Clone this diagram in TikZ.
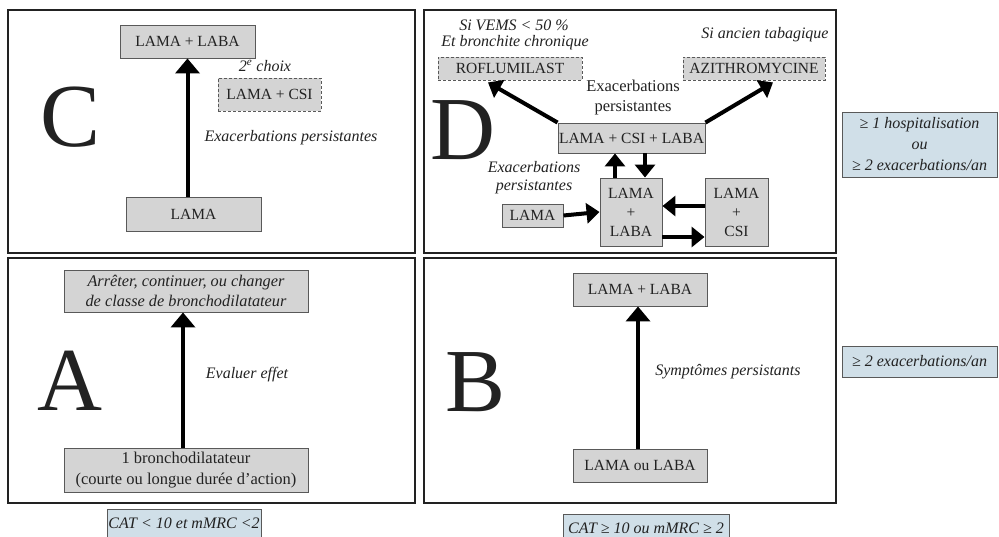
\documentclass[tikz,border=0pt]{standalone}
\usepackage{fontspec}
\setmainfont{Liberation Serif}
\usetikzlibrary{arrows.meta}
\definecolor{boxgray}{HTML}{D4D4D4}
\definecolor{legblue}{HTML}{D0DFE8}
\definecolor{ink}{HTML}{222222}
\begin{document}
\begin{tikzpicture}[x=1pt, y=-1pt, every node/.style={text=ink},
    panel/.style={draw=ink, line width=2pt},
    gbox/.style={draw=black!65, fill=boxgray, line width=.9pt, inner sep=0pt, align=center,
      font=\fontsize{15.5}{18}\selectfont},
    dbox/.style={gbox, dash pattern=on 3pt off 2pt},
    legbox/.style={draw=black!65, fill=legblue, line width=.9pt, inner sep=0pt, align=center,
      font=\fontsize{16}{21}\selectfont\itshape},
    note/.style={align=center, inner sep=0pt, font=\fontsize{16}{18}\selectfont\itshape},
    bigletter/.style={inner sep=0pt, font=\fontsize{90}{90}\selectfont},
    bigarrow/.style={line width=4pt, -{Triangle[length=15pt,width=24pt]}},
    smallarrow/.style={line width=4pt, -{Triangle[length=13pt,width=20pt]}}]
  \useasboundingbox (0,0) rectangle (999,537);
  \clip (0,0) rectangle (999,537);
  \fill[white] (0,0) rectangle (999,537);

    %%panels
    \draw[panel](8, 10) rectangle (415, 253);
    \draw[panel](424, 10) rectangle (836, 253);
    \draw[panel](8, 258) rectangle (415, 503);
    \draw[panel](424, 258) rectangle (836, 503);

    %%C
    \node[bigletter] (cletter) at (71, 117) {C};
    \node[gbox, minimum width=135pt, minimum height=33pt] (ctop) at (187.5, 41.5) {LAMA + LABA};
    \node[gbox, minimum width=135pt, minimum height=34pt] (cbot) at (193.5, 214) {LAMA};
    \node[dbox, minimum width=103pt, minimum height=33pt] (calt) at (269.5, 94.5) {LAMA + CSI};
    \node[note] (cchoix) at (265, 66) {2\textsuperscript{e} choix};
    \node[note] (cexa) at (291, 138) {Exacerbations persistantes};
    \draw[bigarrow](ctop.south |- cbot.north) to (ctop.south);

    %%D
    \node[bigletter] (dletter) at (463, 130) {D};
    \node[note] (dvems) at (514, 25) {Si VEMS < 50 \%};
    \node[note] (dbronch) at (515, 43) {Et bronchite chronique};
    \node[note] (dtabac) at (765, 35) {Si ancien tabagique};
    \node[dbox, minimum width=144pt, minimum height=23pt] (drof) at (510, 68.5) {ROFLUMILAST};
    \node[dbox, minimum width=142pt, minimum height=23pt] (dazi) at (754, 68.5) {AZITHROMYCINE};
    \node[note, font=\fontsize{16.5}{20}\selectfont] (dexa) at (633, 98) {Exacerbations\\persistantes};
    \node[gbox, minimum width=147pt, minimum height=30pt] (dtrip) at (631.5, 138) {LAMA + CSI + LABA};
    \node[note, font=\fontsize{16}{18}\selectfont\itshape] (dexa2) at (534, 178) {Exacerbations\\persistantes};
    \node[gbox, minimum width=61pt, minimum height=23pt] (dlama) at (532.5, 215.5) {LAMA};
    \node[gbox, minimum width=62pt, minimum height=68pt, font=\fontsize{15.5}{19}\selectfont] (dll) at (631, 212) {LAMA\\+\\LABA};
    \node[gbox, minimum width=63pt, minimum height=68pt, font=\fontsize{15.5}{19}\selectfont] (dlc) at (736.5, 212) {LAMA\\+\\CSI};
      \draw[smallarrow](dtrip.north west) to ([xshift=-22pt, yshift=-2pt]drof.south);
      \draw[smallarrow](dtrip.north east) to ([xshift=19pt, yshift=-2pt]dazi.south);
      \draw[smallarrow](dlama.east) to (dll.west);
      \draw[smallarrow]([yshift=6pt]dlc.west) to ([yshift=6pt]dll.east);
      \draw[smallarrow]([yshift=-25pt]dll.east) to ([yshift=-25pt]dlc.west);
      \draw[smallarrow]([xshift=-16pt]dll.north) to ([xshift=-16pt]dll.north |- dtrip.south);
      \draw[smallarrow]([xshift=14pt]dll.north |- dtrip.south) to ([xshift=14pt]dll.north);

    %%A
    \node[bigletter] (aletter) at (70, 381) {A};
    \node[gbox, minimum width=244pt, minimum height=42pt, font=\fontsize{16.3}{19.5}\selectfont\itshape] (atop) at (186, 291)
      {Arrêter, continuer, ou changer\\de classe de bronchodilatateur};
    \node[gbox, minimum width=244pt, minimum height=44pt, font=\fontsize{16.5}{21}\selectfont] (abot) at (186, 470)
      {1 bronchodilatateur\\(courte ou longue durée d’action)};
    \node[note] (aeval) at (247, 375) {Evaluer effet};
    \draw[bigarrow]([xshift=-3pt]abot.north) to ([xshift=-3pt]atop.south);

    %%B
    \node[bigletter] (bletter) at (476, 382) {B};
    \node[gbox, minimum width=134pt, minimum height=33pt] (btop) at (640, 289.5) {LAMA + LABA};
    \node[gbox, minimum width=134pt, minimum height=33pt] (bbot) at (640, 465.5) {LAMA ou LABA};
    \node[note] (bsym) at (728, 372) {Symptômes persistants};
    \draw[bigarrow]([xshift=-2pt]bbot.north) to ([xshift=-2pt]btop.south);

    %%legend
    \node[legbox, minimum width=155pt, minimum height=65pt] (legd) at (919.5, 144.5)
      {≥ 1 hospitalisation\\ou\\≥ 2 exacerbations/an};
    \node[legbox, minimum width=155pt, minimum height=31pt] (legc) at (919.5, 361.5) {≥ 2 exacerbations/an};
    \node[legbox, minimum width=154pt, minimum height=28pt] (lega) at (184, 523) {CAT < 10 et mMRC <2};
    \node[legbox, minimum width=166pt, minimum height=28pt, anchor=north] (legb) at (646, 514) {CAT ≥ 10 ou mMRC ≥ 2};
\end{tikzpicture}
\end{document}
